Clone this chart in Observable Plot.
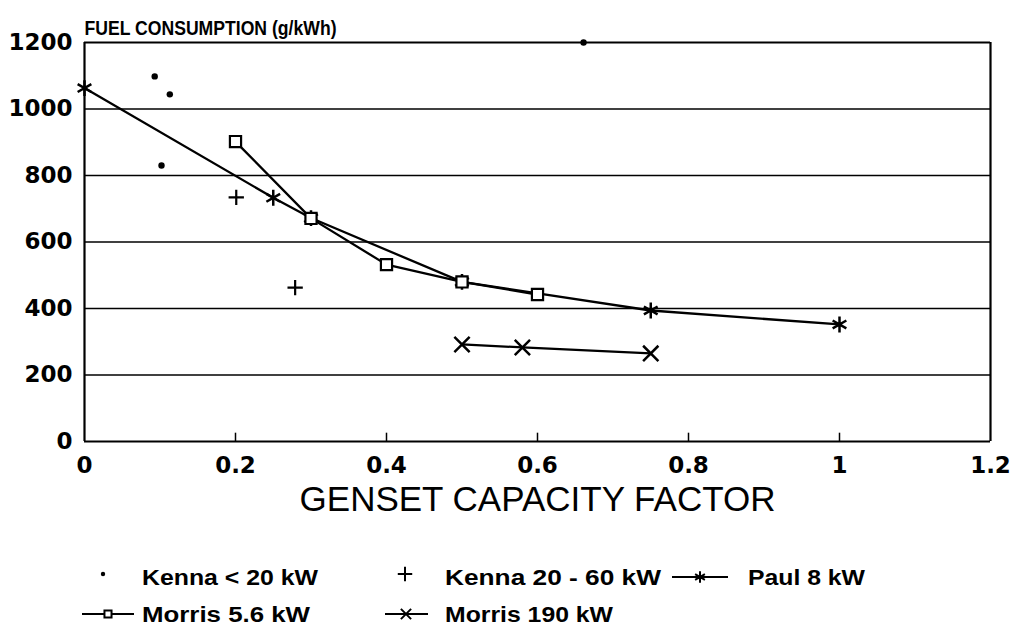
<!DOCTYPE html>
<html>
<head>
<meta charset="utf-8">
<script src="https://cdn.jsdelivr.net/npm/d3@7"></script>
<script src="https://cdn.jsdelivr.net/npm/@observablehq/plot@0.6"></script>
<style>
  html, body { margin: 0; padding: 0; background: white; }
  #wrap { width: 1011px; height: 634px; position: relative; background: white; }
  svg { display: block; }
</style>
</head>
<body>
<div id="wrap"></div>
<script>
// ---- data ----
const xTicks = [0, 0.2, 0.4, 0.6, 0.8, 1, 1.2];
const yTicks = [0, 200, 400, 600, 800, 1000, 1200];
const gridValues = [200, 400, 600, 800, 1000];
const innerXTicks = [0.2, 0.4, 0.6, 0.8, 1];

const kennaSmall = [[0.093, 1098], [0.113, 1044], [0.102, 830], [0.661, 1200]];
const kenna2060 = [[0.201, 734], [0.279, 463]];
const paul8 = [[0, 1063], [0.25, 733], [0.3, 672], [0.5, 480], [0.75, 394], [1.0, 352]];
const morris56 = [[0.2, 902], [0.3, 671], [0.4, 532], [0.5, 480], [0.6, 442]];
const morris190 = [[0.5, 292], [0.58, 283], [0.75, 265]];

const titleText = "FUEL CONSUMPTION (g/kWh)";
const xLabelText = "GENSET CAPACITY FACTOR";
const legendNames = ["Kenna < 20 kW", "Kenna 20 - 60 kW", "Paul 8 kW", "Morris 5.6 kW", "Morris 190 kW"];

const X = d => d[0], Y = d => d[1];
const tickFont = {fontSize: 23, fontWeight: "bold", fontFamily: "DejaVu Sans"};

const chart = Plot.plot({
  width: 1011,
  height: 540,
  marginLeft: 84,
  marginRight: 21,
  marginTop: 42,
  marginBottom: 99,
  x: {domain: [0, 1.2]},
  y: {domain: [0, 1200]},
  style: {background: "white", color: "black", overflow: "visible"},
  marks: [
    Plot.ruleY(gridValues, {stroke: "black", strokeWidth: 1.6}),
    Plot.ruleY([0, 1200], {stroke: "black", strokeWidth: 2.2}),
    Plot.ruleX([0, 1.2], {stroke: "black", strokeWidth: 2.2}),
    Plot.ruleX(innerXTicks, {y1: 0, y2: 25, stroke: "black", strokeWidth: 1.5}),
    Plot.axisX(xTicks, {tickSize: 0, tickPadding: 15, tickFormat: d => String(d), label: null, ...tickFont}),
    Plot.axisY(yTicks, {tickSize: 0, tickPadding: 12, tickFormat: d => String(d), label: null, ...tickFont}),
    Plot.line(paul8, {x: X, y: Y, stroke: "black", strokeWidth: 2.3}),
    Plot.line(morris56, {x: X, y: Y, stroke: "black", strokeWidth: 2.3}),
    Plot.line(morris190, {x: X, y: Y, stroke: "black", strokeWidth: 2.3}),
    Plot.dot(paul8, {x: X, y: Y, symbol: "asterisk", r: 7.5, stroke: "black", strokeWidth: 2.5}),
    Plot.dot(morris56, {x: X, y: Y, symbol: "square", r: 6.3, stroke: "black", fill: "white", strokeWidth: 2.2}),
    Plot.dot(morris190, {x: X, y: Y, symbol: "times", r: 7, stroke: "black", strokeWidth: 2.5}),
    Plot.dot(kenna2060, {x: X, y: Y, symbol: "plus", r: 5, stroke: "black", strokeWidth: 2.2}),
    Plot.dot(kennaSmall, {x: X, y: Y, r: 3.2, fill: "black", stroke: "none"}),
    Plot.text([titleText], {frameAnchor: "top-left", dy: -22, textAnchor: "start", fontSize: 21, fontWeight: "bold", fontFamily: "Liberation Sans", fill: "black"}),
    Plot.text([xLabelText], {frameAnchor: "bottom", dy: 69, fontSize: 35, fontFamily: "Liberation Sans", fill: "black"})
  ]
});
// stretch the title to the reference's width
d3.select(chart).selectAll("text").filter(function() { return this.textContent === titleText; })
  .attr("textLength", 252).attr("lengthAdjust", "spacingAndGlyphs");
document.getElementById("wrap").appendChild(chart);

// ---- legend ----
const leg = d3.create("svg").attr("width", 1011).attr("height", 94)
  .attr("font-family", "Liberation Sans").attr("font-weight", "bold").attr("font-size", 22);
const items = [
  {name: legendNames[0], tx: 142, tl: 176, row: 37, sym: "dot", sx: 103},
  {name: legendNames[1], tx: 445, tl: 216, row: 37, sym: "plus", sx: 405},
  {name: legendNames[2], tx: 748, tl: 117, row: 37, sym: "asterisk", sx: 700, l1: 672, l2: 728},
  {name: legendNames[3], tx: 142, tl: 168, row: 74, sym: "square", sx: 108, l1: 82, l2: 134},
  {name: legendNames[4], tx: 445, tl: 168, row: 74, sym: "times", sx: 406, l1: 385, l2: 428}
];
const symTypes = {plus: [d3.symbolPlus, 70], asterisk: [d3.symbolAsterisk, 90], square: [d3.symbolSquare, 50], times: [d3.symbolTimes, 70]};
for (const it of items) {
  if (it.l1 != null) {
    leg.append("line").attr("x1", it.l1).attr("x2", it.l2).attr("y1", it.row).attr("y2", it.row)
      .attr("stroke", "black").attr("stroke-width", 2.2);
  }
  if (it.sym === "dot") {
    leg.append("circle").attr("cx", it.sx).attr("cy", it.row - 3).attr("r", 2.2).attr("fill", "black");
  } else {
    const [t, s] = symTypes[it.sym];
    leg.append("path").attr("d", d3.symbol(t, s)()).attr("transform", `translate(${it.sx},${it.row - (it.sym === "plus" ? 3 : 0)})`)
      .attr("fill", it.sym === "square" ? "white" : "none").attr("stroke", "black").attr("stroke-width", 2);
  }
  leg.append("text").attr("x", it.tx).attr("y", it.row).attr("dy", "0.35em")
    .attr("textLength", it.tl).attr("lengthAdjust", "spacingAndGlyphs").text(it.name);
}
document.getElementById("wrap").appendChild(leg.node());
</script>
</body>
</html>
